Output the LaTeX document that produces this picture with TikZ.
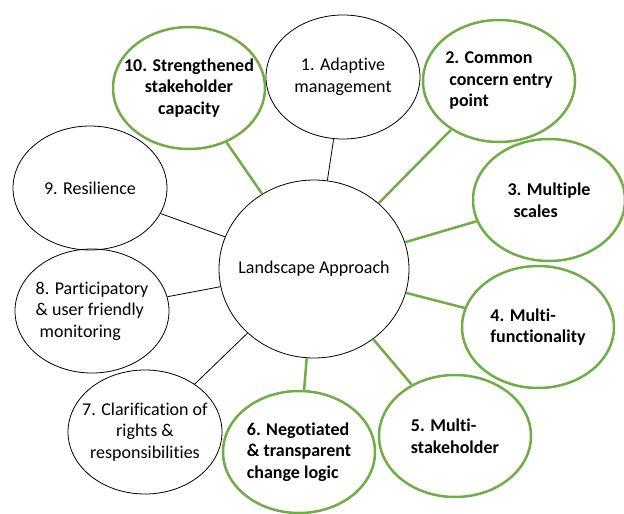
\documentclass[tikz,border=0pt]{standalone}
\usepackage{fontspec}
\setmainfont{Carlito}[Ligatures=NoCommon]
\usetikzlibrary{shapes.geometric}
\definecolor{leafgreen}{RGB}{112,173,71}

\begin{document}
\begin{tikzpicture}[x=1pt, y=-1pt,
   bubble/.style={ellipse, draw=black, line width=0.8pt, minimum width=154pt,
     minimum height=124pt, inner xsep=-25pt, inner ysep=0pt,
     font=\fontsize{18}{21.5}\selectfont},
   keybubble/.style={bubble, draw=leafgreen, line width=2.5pt, minimum width=152pt,
     minimum height=122pt, font=\fontsize{18}{21.5}\selectfont\bfseries},
   thinlink/.style={draw=black, line width=0.8pt},
   keylink/.style={draw=leafgreen, line width=2.5pt}]
   \useasboundingbox (0,0) rectangle (624,514);
   % centre
   \node[bubble, minimum width=190pt, minimum height=178pt] (hub) at (314,269) {Landscape Approach};
   % the ten principles
   \node[bubble, align=center] (adapt) at (343,77) {1. Adaptive\\management};
   \node[keybubble, align=left] (entry) at (499,81) {2. Common\\\hspace{4pt}concern entry\\\hspace{4pt}point};
   \node[keybubble, align=left] (scales) at (549,200) {3. Multiple\\\hspace{6pt}scales};
   \node[keybubble, align=left] (func) at (538,327) {4. Multi-\\functionality};
   \node[keybubble, align=left] (multi) at (455,436) {5. Multi-\\stakeholder};
   \node[keybubble, align=left] (nego) at (299,452) {6. Negotiated\\\& transparent\\change logic};
   \node[bubble, align=center] (rights) at (145,432) {7. Clarification of\\rights \&\\responsibilities};
   \node[bubble, align=left] (monit) at (92,311) {8. Participatory\\\& user friendly\\\hspace{4pt}monitoring};
   \node[bubble] (resil) at (90,188) {9. Resilience};
   \node[keybubble, align=center] (capac) at (189,88) {10. Strengthened\\stakeholder\\capacity};
   % links
   \draw[thinlink] (adapt) -- (hub);
   \draw[keylink] (entry) -- (hub);
   \draw[keylink] (scales) -- (hub);
   \draw[keylink] (func) -- (hub);
   \draw[keylink] (multi) -- (hub);
   \draw[keylink] (nego) -- (hub);
   \draw[thinlink] (rights) -- (hub);
   \draw[thinlink] (monit) -- (hub);
   \draw[thinlink] (resil) -- (hub);
   \draw[keylink] (capac) -- (hub);
\end{tikzpicture}
\end{document}
